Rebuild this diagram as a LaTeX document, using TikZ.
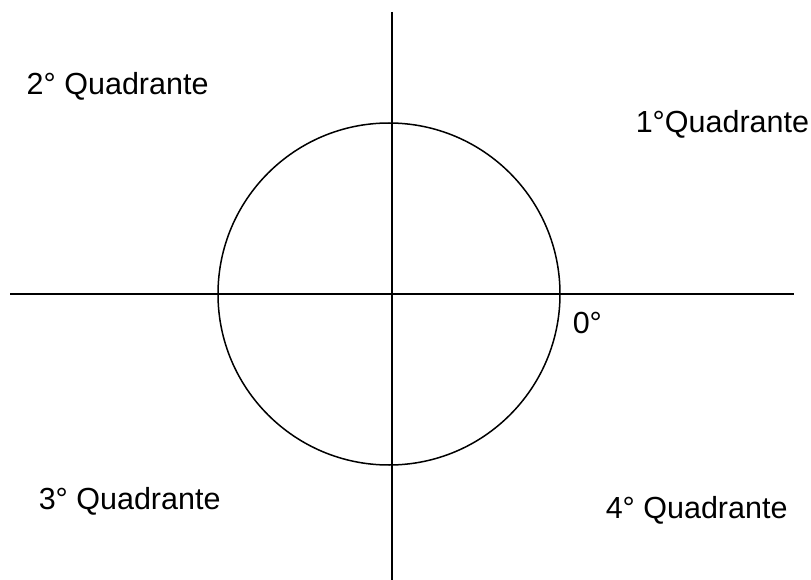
\documentclass[tikz,border=0pt]{standalone}
\usepackage{fontspec}
\setmainfont{Liberation Sans}
\tikzset{quad/.style={anchor=base west,inner sep=0pt,font=\fontsize{30.5}{36}\selectfont}}
\begin{document}
\begin{tikzpicture}[x=1pt,y=-1pt,line width=1.5pt]
       \useasboundingbox (0,0) rectangle (811,580);
       \coordinate (top) at (392,12);
       \coordinate (bottom) at (392,580);
       \coordinate (left) at (10,294);
       \coordinate (right) at (794,294);
       \draw (top) -- (bottom);
       \draw (left) -- (right);
       \draw (389,294) circle[radius=171];
       \node [quad] (q2) at (26,95) {2° Quadrante};
       \node [quad] (q1) at (635,133) {1°Quadrante};
       \node [quad] (zero) at (572,333) {0°};
       \node [quad] (q3) at (38,509) {3° Quadrante};
       \node [quad] (q4) at (605,518) {4° Quadrante};
     \end{tikzpicture}
\end{document}
